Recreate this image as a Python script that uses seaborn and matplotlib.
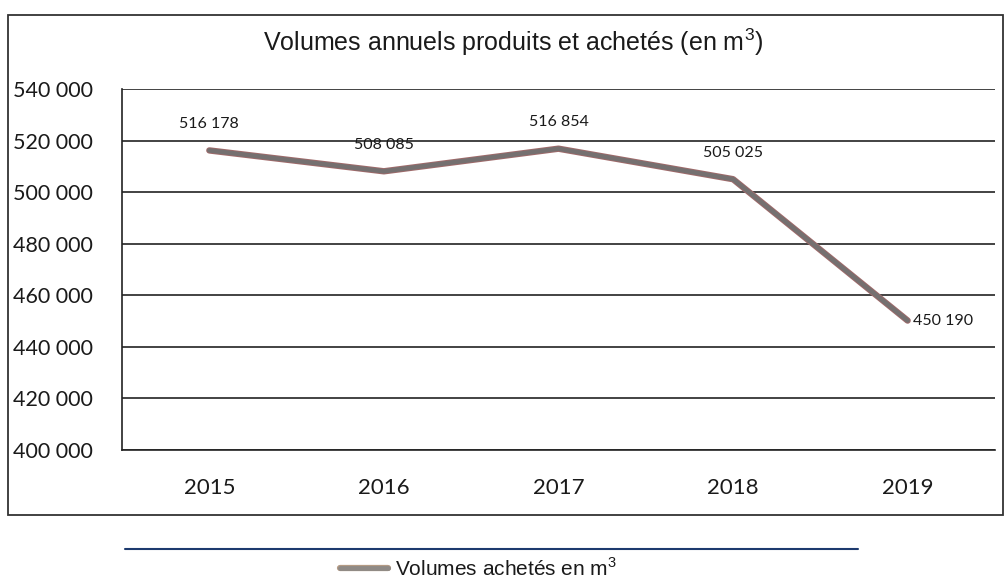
import matplotlib
matplotlib.use("Agg")
import matplotlib.pyplot as plt
import matplotlib.patheffects as pe
from matplotlib.lines import Line2D
from matplotlib.patches import Rectangle
import seaborn as sns
import pandas as pd

years = ["2015", "2016", "2017", "2018", "2019"]
volumes = [516178, 508085, 516854, 505025, 450190]
labels = ["516 178", "508 085", "516 854", "505 025", "450 190"]
yticks = [400000, 420000, 440000, 460000, 480000, 500000, 520000, 540000]
ytick_labels = ["400 000", "420 000", "440 000", "460 000", "480 000", "500 000", "520 000", "540 000"]
title = "Volumes annuels produits et achetés (en m$^3$)"
series_name = "Volumes achetés en m$^3$"

sns.set_theme(style="white")
plt.rcParams["font.family"] = ["Lato", "DejaVu Sans"]
plt.rcParams["mathtext.fontset"] = "custom"
plt.rcParams["mathtext.rm"] = "Liberation Sans"
narrow = ["Liberation Sans", "DejaVu Sans"]

df = pd.DataFrame({"year": years, "volume": volumes})

fig = plt.figure(figsize=(10.07, 5.81), dpi=100)
ax = fig.add_axes([0.1212, 0.2255, 0.8668, 0.6213])

sns.lineplot(data=df, x="year", y="volume", ax=ax, color="#757070", linewidth=3.3,
             sort=False,
             path_effects=[pe.Stroke(linewidth=4.6, foreground="#a06a6a"), pe.Normal()])

ax.set_ylim(400000, 540000)
ax.set_xlim(-0.5, 4.5)
ax.set_yticks(yticks)
ax.set_yticklabels(ytick_labels, fontsize=15.5, color="#1a1a1a")
ax.set_xticks(range(len(years)))
ax.set_xticklabels(years, fontsize=16, color="#1a1a1a")
ax.set_xticks([i - 0.5 for i in range(len(years) + 1)], minor=True)
ax.tick_params(axis="x", which="major", length=0, pad=20)
ax.tick_params(axis="x", which="minor", length=6, width=1.2, color="#222222", direction="out")
ax.tick_params(axis="y", which="major", length=5, width=1.2, color="#222222", direction="out", pad=16)
ax.grid(axis="y", color="#222222", linewidth=1.2)
ax.grid(axis="x", visible=False)
ax.set_xlabel("")
ax.set_ylabel("")
for s in ["top", "right"]:
    ax.spines[s].set_visible(False)
ax.spines["left"].set_color("#222222")
ax.spines["left"].set_linewidth(1.2)
ax.spines["bottom"].set_color("#222222")
ax.spines["bottom"].set_linewidth(1.2)

# data labels
for i, (v, lab) in enumerate(zip(volumes, labels)):
    if i == len(volumes) - 1:
        ax.annotate(lab, (i, v), xytext=(4, 0), textcoords="offset points",
                    ha="left", va="center", fontsize=11.5, color="#1a1a1a")
    else:
        ax.annotate(lab, (i, v), xytext=(0, 14), textcoords="offset points",
                    ha="center", va="bottom", fontsize=11.5, color="#1a1a1a")

fig.suptitle(title, x=0.51, y=0.955, fontsize=18, family=narrow, color="#1a1a1a")

# outer frame
fig.patches.append(Rectangle((0.008, 0.1136), 0.988, 0.8606, transform=fig.transFigure,
                             fill=False, edgecolor="#333333", linewidth=1.3))
# separator line under chart
fig.lines.append(Line2D([0.124, 0.852], [1 - 549 / 581, 1 - 549 / 581], transform=fig.transFigure,
                        color="#1d3a6e", linewidth=1.5))
# legend
ly = 1 - 568 / 581
fig.lines.append(Line2D([0.338, 0.385], [ly, ly], transform=fig.transFigure,
                        color="#8f8a86", linewidth=3.5,
                        path_effects=[pe.Stroke(linewidth=4.5, foreground="#b49a84"), pe.Normal()]))
fig.text(0.392, ly, series_name, ha="left", va="center", fontsize=15, family=narrow, color="#1a1a1a")

fig.savefig("out.png", dpi=100)
